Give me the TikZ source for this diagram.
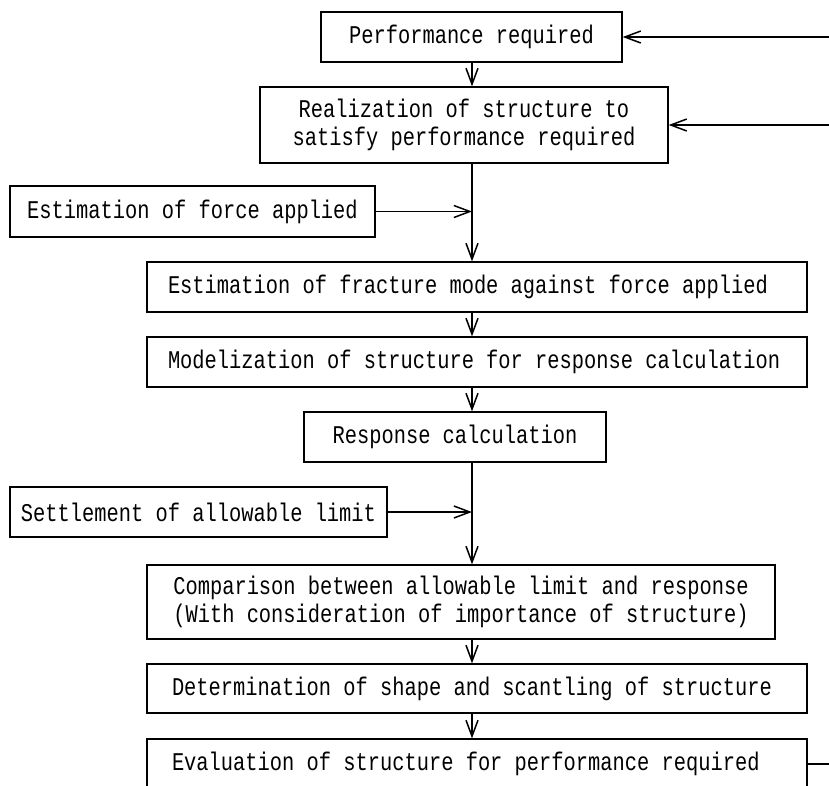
\documentclass[tikz,border=0pt]{standalone}
\usepackage{fontspec}
\setmonofont[FakeStretch=0.8]{Liberation Mono}
\usetikzlibrary{arrows.meta}
\tikzstyle{box} = [rectangle, draw=black, line width=1.3pt, inner sep=0pt, align=center, font=\ttfamily\fontsize{25.5}{28}\selectfont]
\tikzstyle{widebox} = [box, minimum width=660pt]
\tikzstyle{arrow} = [line width=1.5pt, -{Straight Barb[length=16pt,width=12pt,line width=1.5pt]}]
\tikzstyle{line} = [line width=1.5pt]

\begin{document}
\begin{tikzpicture}[x=1pt, y=-1pt] % 1 unit = 1 px of the layout

    \useasboundingbox (0,0) rectangle (829,785);
    \clip (0,0) rectangle (829,785);

    \coordinate (spine) at (472,0);
    \coordinate (edge) at (829,0);

    \node (perf) [box, minimum width=301pt, minimum height=50pt] at (471.5,37) {Performance required};
    \node (realize) [box, minimum width=408pt, minimum height=76pt] at (464,125) {Realization of structure to\\satisfy performance required};
    \node (force) [box, minimum width=365pt, minimum height=51pt] at (192.5,211.5) {Estimation of force applied};
    \node (fracture) [widebox, inner xsep=21pt, minimum height=50pt] at (477,287) {\makebox[618pt][l]{Estimation of fracture mode against force applied}};
    \node (model) [widebox, inner xsep=21pt, minimum height=50pt] at (477,362) {\makebox[618pt][l]{Modelization of structure for response calculation}};
    \node (response) [box, minimum width=302pt, minimum height=50pt] at (455,437) {Response calculation};
    \node (allow) [box, minimum width=377pt, minimum height=50pt] at (198.5,512) {Settlement of allowable limit};
    \node (compare) [box, minimum width=628pt, minimum height=74pt] at (461,602) {Comparison between allowable limit and response\\(With consideration of importance of structure)};
    \node (shape) [widebox, inner xsep=25pt, minimum height=49pt] at (477,688.5) {\makebox[610pt][l]{Determination of shape and scantling of structure}};
    \node (evaluate) [widebox, inner xsep=25pt, minimum height=50pt] at (477,764) {\makebox[610pt][l]{Evaluation of structure for performance required}};

    % arrows
    \draw [arrow] (perf.south -| spine) -- (realize.north -| spine);
    \draw [arrow] (realize.south -| spine) -- (fracture.north -| spine);
    \draw [arrow] (force.east) -- (force.east -| spine);
    \draw [arrow] (fracture.south -| spine) -- (model.north -| spine);
    \draw [arrow] (model.south -| spine) -- (response.north -| spine);
    \draw [arrow] (response.south -| spine) -- (compare.north -| spine);
    \draw [arrow] (allow.east) -- (allow.east -| spine);
    \draw [arrow] (compare.south -| spine) -- (shape.north -| spine);
    \draw [arrow] (shape.south -| spine) -- (evaluate.north -| spine);

    % return lines at the right edge
    \draw [arrow] (perf.east -| edge) -- (perf.east);
    \draw [arrow] (realize.east -| edge) -- (realize.east);
    \draw [line] (evaluate.east) -- (evaluate.east -| edge);
\end{tikzpicture}
\end{document}
